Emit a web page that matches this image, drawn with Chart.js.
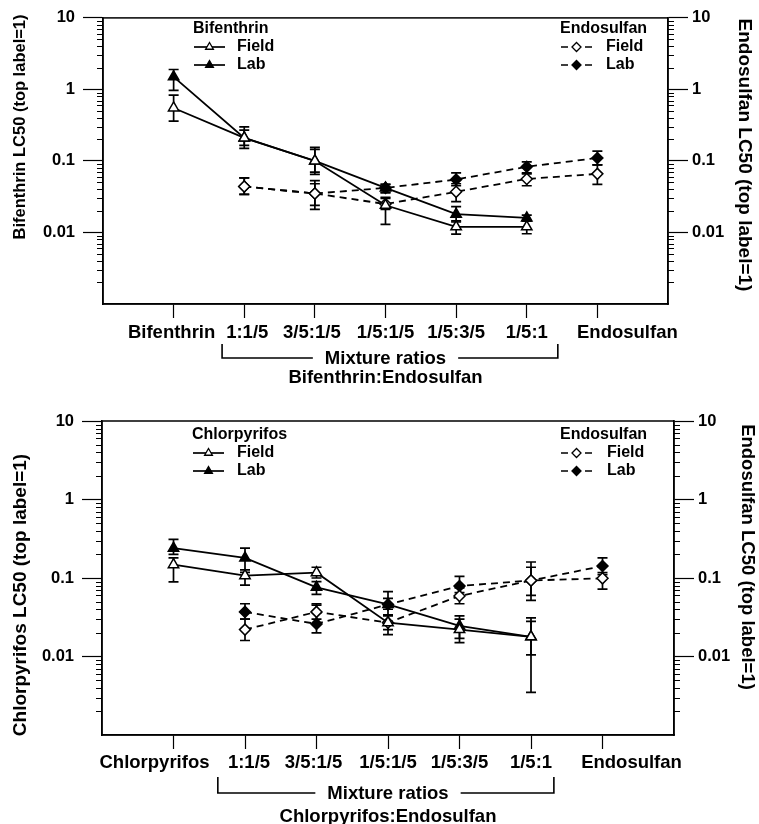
<!DOCTYPE html>
<html>
<head>
<meta charset="utf-8">
<script src="https://cdn.jsdelivr.net/npm/chart.js@4.4.0/dist/chart.umd.min.js"></script>
<style>
    html, body { margin: 0; padding: 0; background: #fff; }
    #pagina { position: relative; width: 759px; height: 824px; }
    .caixa { position: absolute; left: 0; width: 759px; }
</style>
</head>
<body>
<div id="pagina">
    <div class="caixa" style="top:0;height:400px"><canvas id="graficoBifenthrin"></canvas></div>
    <div class="caixa" style="top:400px;height:424px"><canvas id="graficoChlorpyrifos"></canvas></div>
</div>
<script>
// categorias do eixo x (posicoes 0..6)
const categoriasBif = ['Bifenthrin', '1:1/5', '3/5:1/5', '1/5:1/5', '1/5:3/5', '1/5:1', 'Endosulfan'];
const categoriasChl = ['Chlorpyrifos', '1:1/5', '3/5:1/5', '1/5:1/5', '1/5:3/5', '1/5:1', 'Endosulfan'];
const marcasY = [0.01, 0.1, 1, 10];

// grafico de cima: Bifenthrin x Endosulfan
const bifField   = [0.55, 0.21, 0.10, 0.024, 0.012, 0.012, null];
const bifFieldLo = [0.36, 0.165, 0.07, 0.013, 0.0095, 0.0096, null];
const bifFieldHi = [0.83, 0.27, 0.145, 0.031, 0.0145, 0.0145, null];
const bifLab     = [1.5, 0.21, 0.10, 0.042, 0.018, 0.016, null];
const bifLabLo   = [0.97, 0.15, 0.065, 0.036, 0.014, 0.0145, null];
const bifLabHi   = [1.9, 0.30, 0.155, 0.047, 0.023, 0.0175, null];

const endoField1   = [null, 0.044, 0.035, 0.025, 0.037, 0.056, 0.066];
const endoField1Lo = [null, 0.034, 0.024, 0.021, 0.027, 0.045, 0.047];
const endoField1Hi = [null, 0.058, 0.048, 0.030, 0.048, 0.066, 0.088];
const endoLab1     = [null, 0.044, 0.035, 0.042, 0.055, 0.083, 0.11];
const endoLab1Lo   = [null, 0.034, 0.021, 0.036, 0.045, 0.068, 0.088];
const endoLab1Hi   = [null, 0.058, 0.053, 0.047, 0.068, 0.097, 0.137];

// grafico de baixo: Chlorpyrifos x Endosulfan
const chlField   = [0.148, 0.107, 0.117, 0.027, 0.022, 0.0178, null];
const chlFieldLo = [0.089, 0.081, 0.10, 0.019, 0.015, 0.0035, null];
const chlFieldHi = [0.18, 0.127, 0.137, 0.034, 0.030, 0.028, null];
const chlLab     = [0.24, 0.18, 0.076, 0.046, 0.0245, 0.0178, null];
const chlLabLo   = [0.20, 0.118, 0.062, 0.034, 0.017, 0.0105, null];
const chlLabHi   = [0.31, 0.24, 0.09, 0.067, 0.033, 0.031, null];

const endoField2   = [null, 0.022, 0.037, 0.027, 0.059, 0.093, 0.099];
const endoField2Lo = [null, 0.016, 0.030, 0.022, 0.047, 0.060, 0.072];
const endoField2Hi = [null, 0.030, 0.047, 0.033, 0.075, 0.137, 0.11];
const endoLab2     = [null, 0.037, 0.026, 0.046, 0.079, 0.093, 0.142];
const endoLab2Lo   = [null, 0.030, 0.020, 0.040, 0.065, 0.052, 0.117];
const endoLab2Hi   = [null, 0.047, 0.045, 0.055, 0.105, 0.16, 0.18];

const FONTE = '"Liberation Sans", Arial, Helvetica, sans-serif';
Chart.defaults.font.family = FONTE;
Chart.defaults.font.weight = 'bold';
Chart.defaults.color = '#000';

function montarPontos(valores, lo, hi) {
    const pontos = [];
    valores.forEach((v, i) => {
        if (v != null) pontos.push({ x: i, y: v, lo: lo[i], hi: hi[i] });
    });
    return pontos;
}

function serie(label, pontos, eixo, estilo, cheio, tracejado) {
    return {
        label: label,
        data: pontos,
        yAxisID: eixo,
        borderColor: '#000',
        borderWidth: 1.8,
        borderDash: tracejado ? [7, 5] : [],
        pointStyle: estilo,
        pointRadius: estilo === 'triangle' ? 6 : 5.5,
        pointBorderWidth: 1.5,
        pointBorderColor: '#000',
        pointBackgroundColor: cheio ? '#000' : '#fff',
        tension: 0
    };
}

// barras de erro desenhadas antes das linhas, pela escala do proprio grafico
const barrasErro = {
    id: 'barrasErro',
    beforeDatasetsDraw(chart) {
        const ctx = chart.ctx;
        chart.data.datasets.forEach((ds, i) => {
            const meta = chart.getDatasetMeta(i);
            const escala = chart.scales[meta.yAxisID];
            ds.data.forEach((p, j) => {
                const el = meta.data[j];
                const yLo = escala.getPixelForValue(p.lo);
                const yHi = escala.getPixelForValue(p.hi);
                ctx.save();
                ctx.strokeStyle = '#000';
                ctx.lineWidth = 1.7;
                ctx.beginPath();
                ctx.moveTo(el.x, yLo); ctx.lineTo(el.x, yHi);
                ctx.moveTo(el.x - 5, yLo); ctx.lineTo(el.x + 5, yLo);
                ctx.moveTo(el.x - 5, yHi); ctx.lineTo(el.x + 5, yHi);
                ctx.stroke();
                ctx.restore();
            });
        });
    }
};

// moldura, marcas menores, rotulos x, legendas, titulos e colchete
const anotacoes = {
    id: 'anotacoes',
    afterDraw(chart, args, opts) {
        const ctx = chart.ctx;
        const area = chart.chartArea;
        const escX = chart.scales.x;
        ctx.save();
        ctx.strokeStyle = '#000';
        ctx.fillStyle = '#000';
        ctx.lineWidth = 1.5;
        ctx.strokeRect(area.left, area.top, area.right - area.left, area.bottom - area.top);

        // marcas menores do eixo log
        ['y', 'y1'].forEach(id => {
            const esc = chart.scales[id];
            ctx.lineWidth = 1;
            ctx.beginPath();
            for (let d = -3; d < 1; d++) {
                for (let k = 2; k <= 9; k++) {
                    const py = Math.round(esc.getPixelForValue(k * Math.pow(10, d))) + 0.5;
                    if (id === 'y') { ctx.moveTo(area.left, py); ctx.lineTo(area.left - 6, py); }
                    else { ctx.moveTo(area.right, py); ctx.lineTo(area.right + 6, py); }
                }
            }
            ctx.stroke();
        });

        // rotulos das categorias
        ctx.font = 'bold 18.5px ' + FONTE;
        ctx.textAlign = 'center';
        ctx.textBaseline = 'middle';
        opts.categorias.forEach((c, i) => {
            ctx.fillText(c, escX.getPixelForValue(i) + opts.deslocX[i], area.bottom + opts.yRotulos);
        });

        // legendas
        ctx.font = 'bold 16px ' + FONTE;
        opts.legendas.forEach(g => {
            ctx.textAlign = 'left';
            ctx.fillText(g.titulo, g.x, g.y);
            g.itens.forEach((idx, k) => {
                const ds = chart.data.datasets[idx];
                const yy = g.y + 18 * (k + 1);
                ctx.save();
                ctx.lineWidth = 1.7;
                ctx.setLineDash(ds.borderDash);
                ctx.beginPath();
                ctx.moveTo(g.x + 1, yy); ctx.lineTo(g.x + 32, yy);
                ctx.stroke();
                ctx.setLineDash([]);
                ctx.fillStyle = ds.pointBackgroundColor;
                ctx.lineWidth = 1.3;
                Chart.helpers.drawPoint(ctx, { pointStyle: ds.pointStyle, radius: 4.5, rotation: 0, borderWidth: 1.3 }, g.x + 16.5, yy);
                ctx.restore();
                ctx.fillText(ds.label, g.x + g.dx, yy);
            });
        });

        // titulos dos eixos y (girados)
        ctx.textAlign = 'center';
        opts.titulosY.forEach(t => {
            ctx.save();
            ctx.font = 'bold ' + t.tamanho + 'px ' + FONTE;
            ctx.translate(t.x, t.y);
            ctx.rotate(t.giro);
            ctx.fillText(t.texto, 0, 0);
            ctx.restore();
        });

        // colchete das misturas e titulo do eixo x
        ctx.font = 'bold 18.5px ' + FONTE;
        const cx = (area.left + area.right) / 2;
        const meia = ctx.measureText(opts.misturas).width / 2 + 12;
        const c = opts.colchete;
        const xEsq = escX.getPixelForValue(c.de);
        const xDir = escX.getPixelForValue(c.ate);
        ctx.lineWidth = 1.6;
        ctx.beginPath();
        ctx.moveTo(xEsq, c.topo); ctx.lineTo(xEsq, c.base); ctx.lineTo(cx - meia, c.base);
        ctx.moveTo(cx + meia, c.base); ctx.lineTo(xDir, c.base); ctx.lineTo(xDir, c.topo);
        ctx.stroke();
        ctx.fillText(opts.misturas, cx, c.base + 1);
        ctx.fillText(opts.razao, cx, c.base + c.passo);
        ctx.restore();
    }
};

function construirGrafico(canvasId, categorias, series, cfg) {
    cfg.anotacoes.categorias = categorias;
    return new Chart(document.getElementById(canvasId), {
        type: 'line',
        data: { datasets: series },
        plugins: [barrasErro, anotacoes],
        options: {
            responsive: true,
            maintainAspectRatio: false,
            animation: false,
            layout: { padding: { top: cfg.topo, left: 0, right: 0, bottom: 0 } },
            plugins: {
                legend: { display: false },
                tooltip: { enabled: false },
                anotacoes: cfg.anotacoes
            },
            scales: {
                x: {
                    type: 'linear',
                    min: -1,
                    max: 7,
                    afterBuildTicks: s => { s.ticks = categorias.map((c, i) => ({ value: i })); },
                    afterFit: s => { s.height = cfg.alturaX; },
                    ticks: { display: false },
                    grid: { drawOnChartArea: false, tickLength: 14, tickColor: '#000', tickWidth: 1.2 },
                    border: { color: '#000', width: 1.5 }
                },
                y: {
                    type: 'logarithmic',
                    position: 'left',
                    min: 0.001,
                    max: 10,
                    afterBuildTicks: s => { s.ticks = marcasY.map(v => ({ value: v })); },
                    afterFit: s => { s.width = cfg.larguraEsq; },
                    ticks: { callback: v => String(v), padding: 8, font: { size: 16.5, weight: 'bold' }, color: '#000' },
                    grid: { drawOnChartArea: false, tickLength: 20, tickColor: '#000', tickWidth: 1.2 },
                    border: { color: '#000', width: 1.5 }
                },
                y1: {
                    type: 'logarithmic',
                    position: 'right',
                    min: 0.001,
                    max: 10,
                    afterBuildTicks: s => { s.ticks = marcasY.map(v => ({ value: v })); },
                    afterFit: s => { s.width = cfg.larguraDir; },
                    ticks: { callback: v => String(v), padding: 4, font: { size: 16.5, weight: 'bold' }, color: '#000' },
                    grid: { drawOnChartArea: false, tickLength: 20, tickColor: '#000', tickWidth: 1.2 },
                    border: { color: '#000', width: 1.5 }
                }
            }
        }
    });
}

construirGrafico('graficoBifenthrin', categoriasBif, [
    serie('Field', montarPontos(bifField, bifFieldLo, bifFieldHi), 'y', 'triangle', false, false),
    serie('Lab', montarPontos(bifLab, bifLabLo, bifLabHi), 'y', 'triangle', true, false),
    serie('Field', montarPontos(endoField1, endoField1Lo, endoField1Hi), 'y1', 'rectRot', false, true),
    serie('Lab', montarPontos(endoLab1, endoLab1Lo, endoLab1Hi), 'y1', 'rectRot', true, true)
], {
    topo: 14, alturaX: 96, larguraEsq: 103, larguraDir: 91,
    anotacoes: {
        deslocX: [-2, 3, -3, 0, 0, 0, 30],
        yRotulos: 29,
        legendas: [
            { titulo: 'Bifenthrin', x: 193, y: 29, dx: 44, itens: [0, 1] },
            { titulo: 'Endosulfan', x: 560, y: 29, dx: 46, itens: [2, 3] }
        ],
        titulosY: [
            { texto: 'Bifenthrin LC50 (top label=1)', tamanho: 16.5, x: 20, y: 127, giro: -Math.PI / 2 },
            { texto: 'Endosulfan LC50 (top label=1)', tamanho: 19, x: 744, y: 155, giro: Math.PI / 2 }
        ],
        misturas: 'Mixture ratios',
        razao: 'Bifenthrin:Endosulfan',
        colchete: { de: 0.686, ate: 5.44, topo: 344, base: 358, passo: 20 }
    }
});

construirGrafico('graficoChlorpyrifos', categoriasChl, [
    serie('Field', montarPontos(chlField, chlFieldLo, chlFieldHi), 'y', 'triangle', false, false),
    serie('Lab', montarPontos(chlLab, chlLabLo, chlLabHi), 'y', 'triangle', true, false),
    serie('Field', montarPontos(endoField2, endoField2Lo, endoField2Hi), 'y1', 'rectRot', false, true),
    serie('Lab', montarPontos(endoLab2, endoLab2Lo, endoLab2Hi), 'y1', 'rectRot', true, true)
], {
    topo: 21, alturaX: 89, larguraEsq: 102, larguraDir: 85,
    anotacoes: {
        deslocX: [-19, 4, -3, 0, 0, 0, 29],
        yRotulos: 28,
        legendas: [
            { titulo: 'Chlorpyrifos', x: 192, y: 35, dx: 45, itens: [0, 1] },
            { titulo: 'Endosulfan', x: 560, y: 35, dx: 47, itens: [2, 3] }
        ],
        titulosY: [
            { texto: 'Chlorpyrifos LC50 (top label=1)', tamanho: 19, x: 21, y: 195, giro: -Math.PI / 2 },
            { texto: 'Endosulfan LC50 (top label=1)', tamanho: 18.5, x: 747, y: 157, giro: Math.PI / 2 }
        ],
        misturas: 'Mixture ratios',
        razao: 'Chlorpyrifos:Endosulfan',
        colchete: { de: 0.62, ate: 5.32, topo: 377, base: 393, passo: 24 }
    }
});
</script>
</body>
</html>
